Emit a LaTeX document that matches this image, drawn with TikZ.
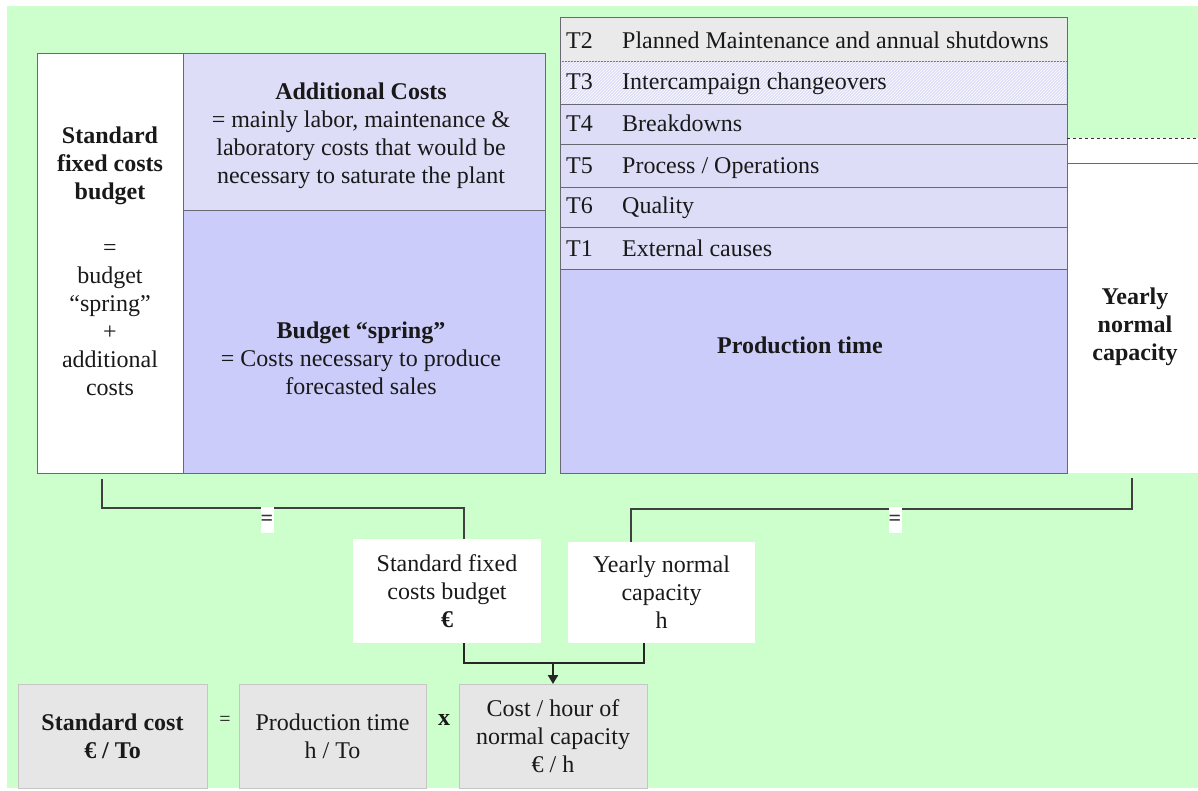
\documentclass[tikz,border=0pt]{standalone}
\usepackage{fontspec}
\setmainfont{Liberation Serif}
\usetikzlibrary{patterns,arrows.meta,calc}
\definecolor{bggreen}{RGB}{204,255,204}
\definecolor{lav}{RGB}{221,221,248}
\definecolor{lavdark}{RGB}{204,204,250}
\definecolor{graybox}{RGB}{230,230,230}
\definecolor{tgray}{RGB}{234,234,234}
\definecolor{edge}{RGB}{105,105,115}
\definecolor{txtc}{RGB}{25,25,25}
\tikzset{
  cell/.style={draw=edge, line width=0.9pt, inner sep=0pt, outer sep=0pt, rectangle},
  whitecell/.style={cell, fill=white},
  gcell/.style={draw=gray!45, line width=0.8pt, fill=graybox, inner sep=0pt, outer sep=0pt},
  txt/.style={align=center, text=txtc, font=\fontsize{24}{28}\selectfont, inner sep=0pt},
  ltxt/.style={anchor=base west, text=txtc, font=\fontsize{24}{28}\selectfont, inner sep=0pt},
  conn/.style={draw=black!75, line width=1.1pt},
  thickconn/.style={draw=black!85, line width=2.6pt},
  eqbox/.style={fill=white, minimum width=13, minimum height=26, inner sep=0pt, font=\fontsize{22}{22}\selectfont\bfseries, text=black!80}
}
\begin{document}
\begin{tikzpicture}[x=1pt,y=-1pt]
\useasboundingbox (0,0) rectangle (1198,791);
\fill[white] (0,0) rectangle (1198,791);
\fill[bggreen] (7,6) rectangle (1198,788);

% left block
\node[whitecell, minimum width=146, minimum height=420] (lw) at (110,263) {};
\node[cell, fill=lav, minimum width=362, minimum height=157] (addc) at (364,131.5) {};
\node[cell, fill=lavdark, minimum width=362, minimum height=263] (bsp) at (364,341.5) {};
\draw[edge, line width=0.9pt] (37,53) rectangle (545,473);

\node[txt] (tl) at (110,261) {\textbf{Standard}\\\textbf{fixed costs}\\\textbf{budget}\\[28pt]=\\budget\\“spring”\\+\\additional\\costs};
\node[txt] (ta) at (361,136) {\textbf{Additional Costs}\\= mainly labor, maintenance \&\\laboratory costs that would be\\necessary to saturate the plant};
\node[txt] (tb) at (361,358) {\textbf{Budget “spring”}\\= Costs necessary to produce\\forecasted sales};

% T list
\node[cell, fill=tgray, minimum width=507, minimum height=44] (r2) at (813.5,39) {};
\node[cell, fill=lav, minimum width=507, minimum height=43] (r3) at (813.5,82.5) {};
\fill[pattern=north east lines, pattern color=white] (561,62) rectangle (1066,103.5);
\node[cell, fill=lav, minimum width=507, minimum height=40] (r4) at (813.5,124) {};
\node[cell, fill=lav, minimum width=507, minimum height=43] (r5) at (813.5,165.5) {};
\node[cell, fill=lav, minimum width=507, minimum height=40] (r6) at (813.5,207) {};
\node[cell, fill=lav, minimum width=507, minimum height=42] (r1) at (813.5,248) {};
\node[cell, fill=lavdark, minimum width=507, minimum height=204] (pt) at (813.5,371) {};

\node[ltxt] (l2) at (566,49) {T2};
\node[ltxt] (d2) at (622,49) {Planned Maintenance and annual shutdowns};
\node[ltxt] (l3) at (566,90) {T3};
\node[ltxt] (d3) at (622,90) {Intercampaign changeovers};
\node[ltxt] (l4) at (566,132) {T4};
\node[ltxt] (d4) at (622,132) {Breakdowns};
\node[ltxt] (l5) at (566,174) {T5};
\node[ltxt] (d5) at (622,174) {Process / Operations};
\node[ltxt] (l6) at (566,214) {T6};
\node[ltxt] (d6) at (622,214) {Quality};
\node[ltxt] (l1) at (566,257) {T1};
\node[ltxt] (d1) at (622,257) {External causes};
\node[txt] (tpt) at (800,345) {\textbf{Production time}};

% yearly normal capacity
\fill[white] (1067.5,138) rectangle (1198,473);
\draw[black!80, line width=0.9pt, dashed] (1067,138) -- (1198,138);
\draw[edge, line width=0.9pt] (1067,163) -- (1198,163);
\node[txt] (tync) at (1135,327) {\textbf{Yearly}\\\textbf{normal}\\\textbf{capacity}};

% middle boxes
\node[whitecell, draw=none, minimum width=188, minimum height=104] (sfc) at (447,591) {};
\node[txt] at (sfc) {Standard fixed\\costs budget\\\textbf{€}};
\node[whitecell, draw=none, minimum width=187, minimum height=101] (ync) at (661.5,592.5) {};
\node[txt] at (ync) {Yearly normal\\capacity\\h};

% connectors
\coordinate (lbA) at (102,479);
\coordinate (lbM) at (464,508);
\draw[conn] (lbA) |- (lbM) -- (lbM |- sfc.north);
\node[eqbox] (eq1) at (267,520) {=};
\coordinate (rbA) at (1132,478);
\coordinate (rbM) at (631,509);
\draw[conn] (rbA) |- (rbM) -- (rbM |- ync.north);
\node[eqbox] (eq2) at (895,520) {=};

% bottom boxes
\node[gcell, minimum width=189, minimum height=104] (sc) at (112.5,736) {};
\node[txt] at (sc) {\textbf{Standard cost}\\\textbf{€ / To}};
\node[gcell, minimum width=187, minimum height=104] (ptb) at (332.5,736) {};
\node[txt] at (ptb) {Production time\\h / To};
\node[gcell, minimum width=188, minimum height=104] (ch) at (553,736) {};
\node[txt] at (ch) {Cost / hour of\\normal capacity\\€ / h};
\node[txt, font=\fontsize{20}{20}\selectfont] (eqb) at (225,721) {=};
\node[txt] (xb) at (444,720) {\textbf{x}};

\coordinate (brk) at (553,663);
\draw[thickconn] ($(sfc.south)+(17,0)$) |- (brk) -| ($(ync.south)+(-17.5,0)$);
\draw[thickconn, -{Triangle[length=9pt,width=10pt]}] (brk) -- (ch.north);
\end{tikzpicture}
\end{document}
